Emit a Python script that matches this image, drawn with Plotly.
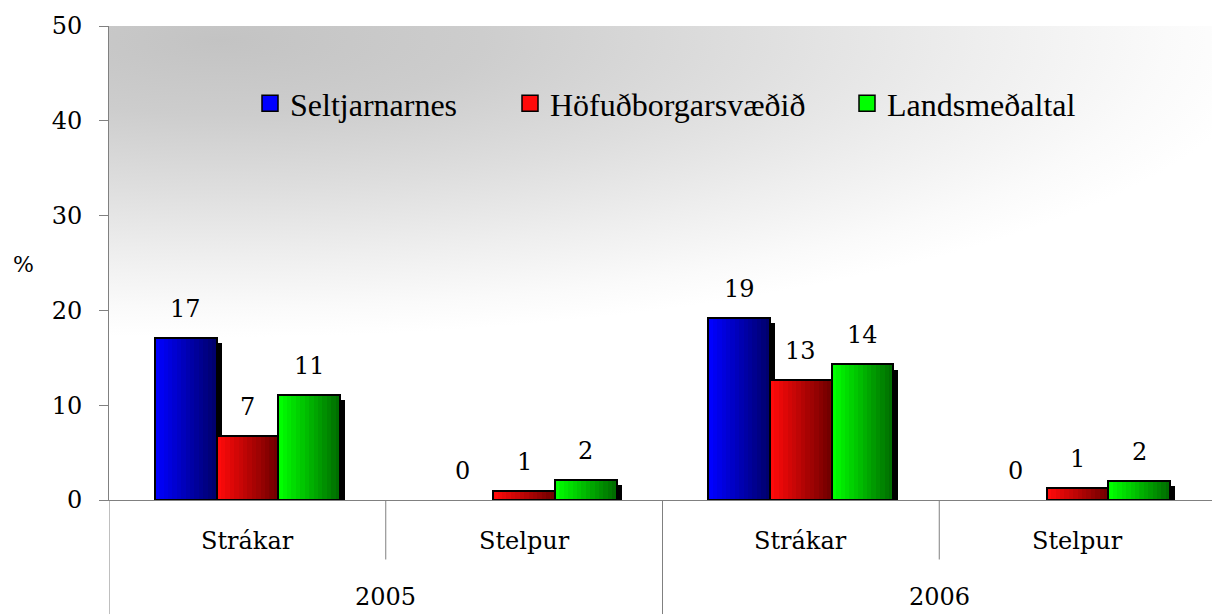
import base64
import plotly.graph_objects as go

# categories
genders = ["Strákar", "Stelpur", "Strákar", "Stelpur"]
years = ["2005", "2006"]

# series values (%)
series_names = ["Seltjarnarnes", "Höfuðborgarsvæðið", "Landsmeðaltal"]
seltjarnarnes = [17.1, 0.0, 19.2, 0.0]
hofudborg = [6.7, 1.0, 12.7, 1.3]
landsmedaltal = [11.1, 2.1, 14.3, 2.0]

y_ticks = [0, 10, 20, 30, 40, 50]

# colours: left (bright) -> right (dark) for the bar shading
light = [(0, 0, 255), (255, 10, 10), (0, 255, 0)]
dark = [(0, 0, 110), (115, 0, 0), (0, 110, 0)]

# geometry in category units (one category = 1)
W = 0.223
offsets = [-0.3345, -0.1115, 0.1115]
N_STRIPS = 14
SHADOW_DX = 0.018
SHADOW_DY = 0.55

x_pos = list(range(len(genders)))
all_series = [seltjarnarnes, hofudborg, landsmedaltal]

# page has an 8px body margin, so the figure is drawn 8px in from the corner
BODY = 8
FIG_W, FIG_H = 1220 - BODY, 615 - BODY
PLOT_L, PLOT_T, PLOT_W, PLOT_H = 109 - BODY, 22 - BODY, 1107, 478
ZERO_Y = PLOT_T + PLOT_H  # in figure pixels
FONT_NUM = "DejaVu Serif, serif"
FONT_LEG = "Liberation Serif, serif"


def paper_y(page_y):
    return (ZERO_Y - (page_y - BODY)) / PLOT_H


def paper_x(page_x):
    return (page_x - BODY - PLOT_L) / PLOT_W


fig = go.Figure()

# drop shadows first
for j, vals in enumerate(all_series):
    fig.add_trace(go.Bar(
        x=x_pos, y=[max(v - SHADOW_DY, 0) for v in vals],
        offset=offsets[j] + SHADOW_DX, width=W,
        marker=dict(color="black", line=dict(width=0)),
        showlegend=False, hoverinfo="skip"))

# bars, shaded left to right in thin strips
for j, vals in enumerate(all_series):
    step = W / N_STRIPS
    for k in range(N_STRIPS):
        t = k / (N_STRIPS - 1)
        c = tuple(int(light[j][i] + (dark[j][i] - light[j][i]) * t) for i in range(3))
        fig.add_trace(go.Bar(
            x=x_pos, y=vals,
            offset=offsets[j] + k * step, width=min(step * 1.6, W - k * step),
            marker=dict(color="rgb(%d,%d,%d)" % c, line=dict(width=0)),
            showlegend=False, hoverinfo="skip"))
    # black outline
    fig.add_trace(go.Bar(
        x=x_pos, y=vals, offset=offsets[j], width=W,
        marker=dict(color="rgba(0,0,0,0)",
                    line=dict(color="black", width=[0 if v == 0 else 2 for v in vals])),
        name=series_names[j], showlegend=False,
        hovertemplate="%{y}<extra>" + series_names[j] + "</extra>"))

# legend entries, one legend each so they can be spread like the original
legend_ids = ["legend", "legend2", "legend3"]
legend_px = [250, 510, 847]
for j in range(3):
    fig.add_trace(go.Scatter(
        x=[None], y=[None], mode="markers", name=series_names[j],
        legend=legend_ids[j],
        marker=dict(symbol="square", size=16,
                    color="rgb(%d,%d,%d)" % light[j],
                    line=dict(color="black", width=1.5))))

# value labels
for j, vals in enumerate(all_series):
    for i, v in enumerate(vals):
        fig.add_annotation(
            x=x_pos[i] + offsets[j] + W / 2, y=v, xref="x", yref="y",
            text=f"{v:.0f}", showarrow=False, yshift=29, yanchor="middle",
            font=dict(family=FONT_NUM, size=24, color="black"))

# category labels
for i, g in enumerate(genders):
    fig.add_annotation(x=x_pos[i], y=paper_y(541), xref="x", yref="paper",
                       text=g, showarrow=False, yanchor="middle",
                       font=dict(family=FONT_NUM, size=24, color="black"))
for k, yr in enumerate(years):
    fig.add_annotation(x=2 * k + 0.5, y=paper_y(598), xref="x", yref="paper",
                       text=yr, showarrow=False, yanchor="middle",
                       font=dict(family=FONT_NUM, size=24, color="black"))

# "%" axis title
fig.add_annotation(x=paper_x(23), y=paper_y(263), xref="paper", yref="paper",
                   text="%", showarrow=False, xanchor="center", yanchor="middle",
                   font=dict(family=FONT_NUM, size=22, color="black"))

# category divider lines below the axis
bottom_full = paper_y(615)
bottom_short = paper_y(560)
for b in [-0.5, 0.5, 1.5, 2.5, 3.5]:
    fig.add_shape(type="line", xref="x", yref="paper", x0=b, x1=b, y0=0,
                  y1=bottom_full if b in (-0.5, 1.5, 3.5) else bottom_short,
                  line=dict(color="#808080", width=1))

# grey gradient background of the plot area
svg = ("<svg xmlns='http://www.w3.org/2000/svg' width='1107' height='478' viewBox='0 0 1 1' "
       "preserveAspectRatio='none'><defs><radialGradient id='g' cx='0.1' cy='0.03' r='0.95' "
       "gradientTransform='translate(0.1 0.03) scale(1 0.66) translate(-0.1 -0.03)'>"
       "<stop offset='0' stop-color='#c3c3c3'/><stop offset='0.25' stop-color='#cdcdcd'/>"
       "<stop offset='0.5' stop-color='#dedede'/><stop offset='0.72' stop-color='#eeeeee'/>"
       "<stop offset='0.9' stop-color='#fafafa'/><stop offset='1' stop-color='#ffffff'/>"
       "</radialGradient></defs><rect width='1' height='1' fill='url(#g)'/></svg>")
bg_src = "data:image/svg+xml;base64," + base64.b64encode(svg.encode()).decode()

legend_common = dict(orientation="h", yanchor="middle", y=paper_y(100),
                     xanchor="left", bgcolor="rgba(0,0,0,0)",
                     font=dict(family=FONT_LEG, size=32, color="black"))

fig.update_layout(
    width=FIG_W, height=FIG_H,
    margin=dict(l=PLOT_L, r=FIG_W - PLOT_L - PLOT_W, t=PLOT_T, b=FIG_H - PLOT_T - PLOT_H, pad=0),
    paper_bgcolor="white", plot_bgcolor="white",
    barmode="overlay", bargap=0,
    images=[dict(source=bg_src, xref="paper", yref="paper", x=0, y=1, sizex=1, sizey=1,
                 xanchor="left", yanchor="top", sizing="stretch", layer="below")],
    legend=dict(x=paper_x(legend_px[0]), **legend_common),
    legend2=dict(x=paper_x(legend_px[1]), **legend_common),
    legend3=dict(x=paper_x(legend_px[2]), **legend_common),
    xaxis=dict(range=[-0.5, 3.5], showgrid=False, zeroline=False, showticklabels=False,
               ticks="", showline=True, linecolor="#808080", linewidth=1, fixedrange=True),
    yaxis=dict(range=[0, 50], tickvals=y_ticks, showgrid=False, zeroline=False,
               showline=True, linecolor="#808080", linewidth=1,
               ticks="outside", ticklen=9, tickcolor="#808080", ticklabelstandoff=12,
               tickfont=dict(family=FONT_NUM, size=24, color="black"), fixedrange=True),
)

fig.write_html("out.html")
